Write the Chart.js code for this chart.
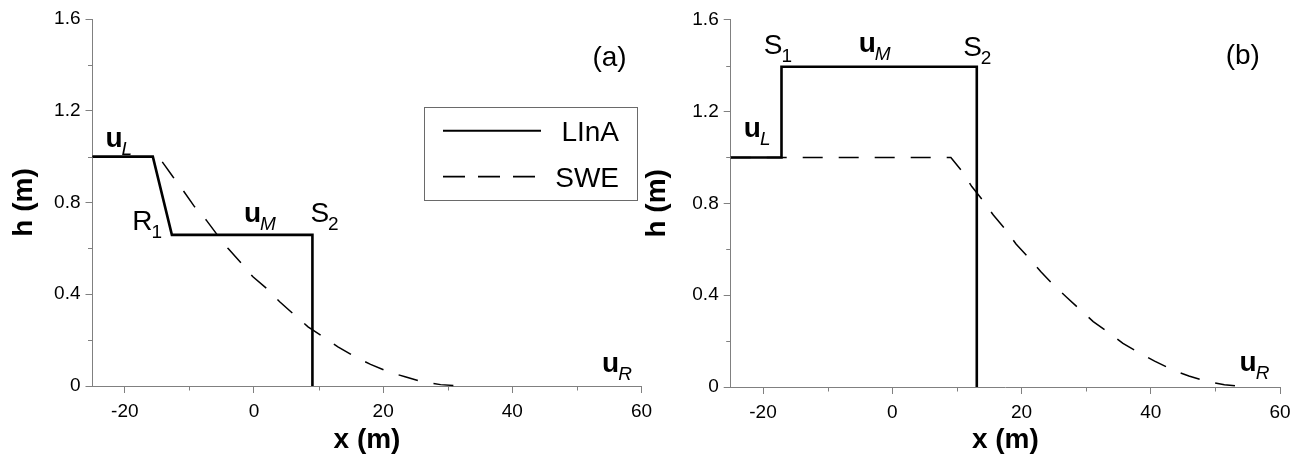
<!DOCTYPE html>
<html><head><meta charset="utf-8">
<script src="https://cdn.jsdelivr.net/npm/chart.js@4.4.1/dist/chart.umd.min.js"></script>
<style>
html,body{margin:0;padding:0;background:#fff;}
#wrap{position:relative;width:1305px;height:464px;overflow:hidden;background:#fff;}
canvas{position:absolute;top:0;}
</style></head><body>
<div id="wrap">
<canvas id="ca" width="660" height="464" style="left:0px;width:660px;height:464px"></canvas>
<canvas id="cb" width="665" height="464" style="left:640px;width:665px;height:464px"></canvas>
</div>
<script>
// ---------- data ----------
const xTickValues = [-20, 0, 20, 40, 60];
const xTickLabels = ['-20', '0', '20', '40', '60'];
const xMinorTicks = [-10, 10, 30, 50];
const yTickValues = [0, 0.4, 0.8, 1.2, 1.6];
const yTickLabels = ['0', '0.4', '0.8', '1.2', '1.6'];
const yMinorTicks = [0.2, 0.6, 1.0, 1.4];

const seriesNames = ['LInA', 'SWE'];

// panel (a)
const aLinaX = [-25, -15.66, -12.71, 9.05, 9.05];
const aLinaH = [1.0, 1.0, 0.659, 0.659, 0];
const aSweX = [-25, -15.0, -14.2, -12.55, -11.0, -9.19, -7.38, -5.74, -4.03, -1.95, -0.16, 1.92, 3.98, 6.31, 8.37, 10.85, 13.0, 15.6, 18.05, 20.78, 23.4, 26.2, 28.9, 31.9];
const aSweH = [1.0, 1.0, 0.977, 0.912, 0.854, 0.781, 0.723, 0.661, 0.600, 0.535, 0.476, 0.426, 0.367, 0.309, 0.258, 0.212, 0.171, 0.128, 0.0945, 0.062, 0.040, 0.017, 0.006, 0.001];

// panel (b)
const bLinaX = [-25, -17.14, -17.14, 13.08, 13.08];
const bLinaH = [1.0, 1.0, 1.395, 1.395, 0];
const bSweX = [-25, 9.07, 10.76, 12.31, 14.1, 15.64, 17.6, 19.15, 21.16, 23.0, 25.07, 26.98, 29.3, 31.1, 33.67, 35.7, 38.3, 40.6, 43.4, 45.9, 48.85, 51.4, 54.5];
const bSweH = [1.0, 1.0, 0.941, 0.873, 0.810, 0.749, 0.684, 0.623, 0.561, 0.502, 0.441, 0.391, 0.331, 0.285, 0.234, 0.190, 0.147, 0.113, 0.074, 0.048, 0.023, 0.010, 0.001];

// text labels (data coordinates of baseline-left)
const aLabels = [
  {x: -23.0, y: 1.043, main: 'u', sub: 'L', bold: true, subItalic: true},
  {x: -18.85, y: 0.680, main: 'R', sub: '1', bold: false, subItalic: false},
  {x: -1.55, y: 0.716, main: 'u', sub: 'M', bold: true, subItalic: true},
  {x: 8.74, y: 0.716, main: 'S', sub: '2', bold: false, subItalic: false},
  {x: 53.9, y: 0.062, main: 'u', sub: 'R', bold: true, subItalic: true},
  {x: 52.4, y: 1.394, main: '(a)', sub: '', bold: false, subItalic: false}
];
const bLabels = [
  {x: -22.97, y: 1.091, main: 'u', sub: 'L', bold: true, subItalic: true},
  {x: -19.88, y: 1.451, main: 'S', sub: '1', bold: false, subItalic: false},
  {x: -5.2, y: 1.461, main: 'u', sub: 'M', bold: true, subItalic: true},
  {x: 10.97, y: 1.444, main: 'S', sub: '2', bold: false, subItalic: false},
  {x: 53.75, y: 0.071, main: 'u', sub: 'R', bold: true, subItalic: true},
  {x: 51.6, y: 1.405, main: '(b)', sub: '', bold: false, subItalic: false}
];

// ---------- style ----------
const FAM = "'Liberation Sans', Arial, Helvetica, sans-serif";
const AXIS = '#808080';
const SOLID_W = 2.6;
const DASH_W = 1.5;
const DASH = [20, 16];

function pairs(xs, ys) { return xs.map((x, i) => ({x: x, y: ys[i]})); }

const decor = {
  id: 'decor',
  afterDatasetsDraw(chart, args, opts) {
    const ctx = chart.ctx, xs = chart.scales.x, ys = chart.scales.y, ca = chart.chartArea;
    ctx.save();
    // minor ticks
    ctx.strokeStyle = AXIS; ctx.lineWidth = 1; ctx.setLineDash([]);
    ctx.beginPath();
    xMinorTicks.forEach(v => {
      const px = Math.round(xs.getPixelForValue(v)) + 0.5;
      ctx.moveTo(px, ca.bottom); ctx.lineTo(px, ca.bottom + 4.5);
    });
    yMinorTicks.forEach(v => {
      const py = Math.round(ys.getPixelForValue(v)) + 0.5;
      ctx.moveTo(ca.left - 4.5, py); ctx.lineTo(ca.left, py);
    });
    ctx.stroke();
    // labels
    ctx.fillStyle = '#000'; ctx.textAlign = 'left'; ctx.textBaseline = 'alphabetic';
    (opts.labels || []).forEach(a => {
      const px = xs.getPixelForValue(a.x), py = ys.getPixelForValue(a.y);
      ctx.font = (a.bold ? 'bold ' : '') + '28px ' + FAM;
      ctx.fillText(a.main, px, py);
      if (a.sub) {
        const w = ctx.measureText(a.main).width;
        ctx.font = (a.subItalic ? 'italic ' : '') + '19px ' + FAM;
        ctx.fillText(a.sub, px + w - 1, py + 8);
      }
    });
    // legend
    if (opts.legend) {
      const L = opts.legend;
      const bx = ca.left + L.dx, by = ca.top + L.dy;
      ctx.strokeStyle = '#6a6a6a'; ctx.lineWidth = 1; ctx.setLineDash([]);
      ctx.strokeRect(Math.round(bx) + 0.5, Math.round(by) + 0.5, L.w, L.h);
      chart.data.datasets.forEach((ds, i) => {
        const ly = by + L.rowY[i];
        ctx.strokeStyle = '#000';
        ctx.lineWidth = i === 0 ? 2 : 1.8;
        ctx.setLineDash(i === 0 ? [] : [22, 13]);
        ctx.beginPath();
        ctx.moveTo(bx + L.lineX0, ly); ctx.lineTo(bx + L.lineX1, ly);
        ctx.stroke();
        ctx.setLineDash([]);
        ctx.font = '28px ' + FAM;
        ctx.textAlign = 'right';
        ctx.fillStyle = '#000';
        ctx.fillText(ds.label, bx + L.textRight, ly + 10);
      });
    }
    ctx.restore();
  }
};

function makePanel(id, P) {
  const cv = document.getElementById(id);
  return new Chart(cv, {
    type: 'line',
    data: {
      datasets: [
        {label: seriesNames[0], data: pairs(P.linaX, P.linaH), borderColor: '#000', borderWidth: SOLID_W,
         pointRadius: 0, tension: 0, fill: false, borderJoinStyle: 'miter', order: 1},
        {label: seriesNames[1], data: pairs(P.sweX, P.sweH), borderColor: '#000', borderWidth: DASH_W,
         borderDash: DASH, pointRadius: 0, tension: 0, fill: false, order: 2}
      ]
    },
    options: {
      responsive: false, animation: false, devicePixelRatio: 1,
      parsing: true, clip: false,
      layout: {padding: {left: 0, top: P.padTop, right: P.padRight, bottom: 0}},
      plugins: {legend: {display: false}, tooltip: {enabled: false},
        decor: {labels: P.labels, legend: P.legend}},
      scales: {
        x: {
          type: 'linear', min: -25, max: 60,
          afterBuildTicks: s => { s.ticks = xTickValues.map(v => ({value: v})); },
          afterFit: s => { s.height = P.xAxisH; },
          ticks: {callback: (v, i) => xTickLabels[i], font: {family: FAM, size: 19}, color: '#000',
                  padding: 7, maxRotation: 0, autoSkip: false},
          grid: {display: true, drawOnChartArea: false, drawTicks: true, tickLength: 7, tickColor: AXIS, tickWidth: 1},
          border: {display: true, color: AXIS, width: 1},
          title: {display: true, text: 'x (m)', color: '#000',
                  font: {family: FAM, size: 28, weight: 'bold', lineHeight: 1}, padding: {top: 0, bottom: P.xTitlePad}}
        },
        y: {
          type: 'linear', min: 0, max: 1.6,
          afterBuildTicks: s => { s.ticks = yTickValues.map(v => ({value: v})); },
          afterFit: s => { s.width = P.yAxisW; },
          ticks: {callback: (v, i) => yTickLabels[i], font: {family: FAM, size: 19}, color: '#000',
                  padding: 5, autoSkip: false},
          grid: {display: true, drawOnChartArea: false, drawTicks: true, tickLength: 7, tickColor: AXIS, tickWidth: 1},
          border: {display: true, color: AXIS, width: 1},
          title: {display: true, text: 'h (m)', color: '#000',
                  font: {family: FAM, size: 28, weight: 'bold', lineHeight: 1}, padding: {top: P.yTitlePad, bottom: 0}}
        }
      }
    },
    plugins: [decor]
  });
}

makePanel('ca', {
  linaX: aLinaX, linaH: aLinaH, sweX: aSweX, sweH: aSweH, labels: aLabels,
  padTop: 19, padRight: 18.5, xAxisH: 78, yAxisW: 92.5, xTitlePad: 9.4, yTitlePad: 10,
  legend: {dx: 331.5, dy: 87.7, w: 213, h: 93, rowY: [24, 70], lineX0: 19, lineX1: 117, textRight: 195}
});
makePanel('cb', {
  linaX: bLinaX, linaH: bLinaH, sweX: bSweX, sweH: bSweH, labels: bLabels,
  padTop: 19.7, padRight: 25, xAxisH: 77, yAxisW: 90.7, xTitlePad: 9.4, yTitlePad: 3,
  legend: null
});
</script>
</body></html>
